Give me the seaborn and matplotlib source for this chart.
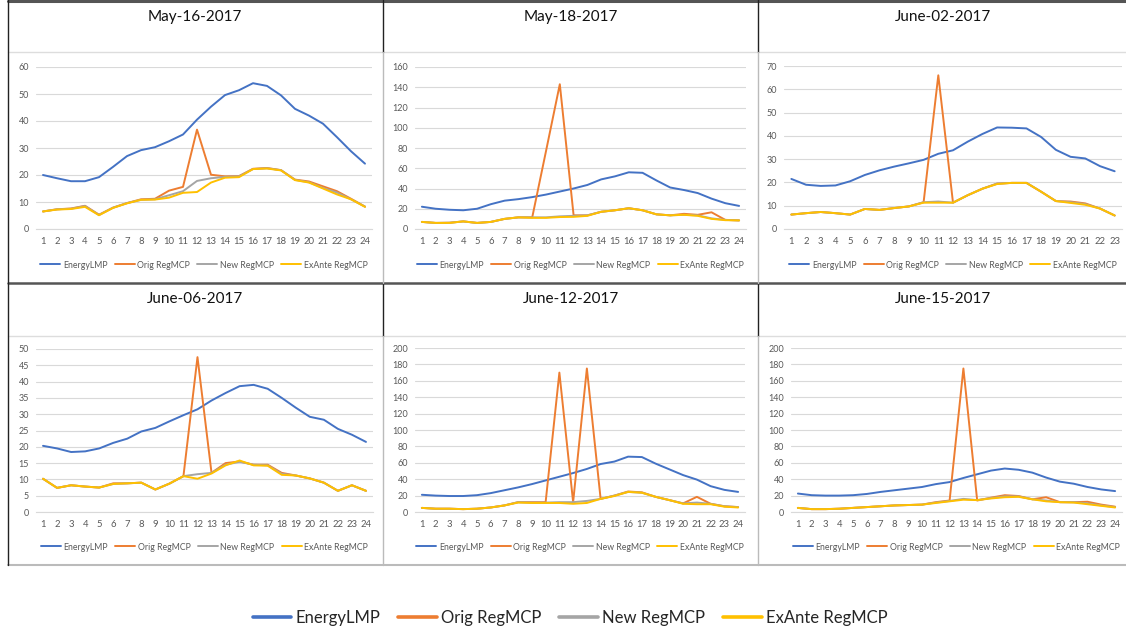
import seaborn as sns
import numpy as np
import pandas as pd
import matplotlib.pyplot as plt
from matplotlib.lines import Line2D

# hourly prices
series_names = ['EnergyLMP', 'Orig RegMCP', 'New RegMCP', 'ExAnte RegMCP']
series_colors = ['#4472C4', '#ED7D31', '#A5A5A5', '#FFC000']

dates = ['May-16-2017', 'May-18-2017', 'June-02-2017', 'June-06-2017', 'June-12-2017', 'June-15-2017']

may16_lmp = [20, 18.8, 17.7, 17.7, 19.2, 23, 27, 29.2, 30.3, 32.5, 35, 40.5, 45.3, 49.6, 51.4, 54, 53, 49.5, 44.5, 42, 39, 34, 28.8, 24.2]
may16_orig = [6.5, 7.3, 7.6, 8.6, 5.3, 7.9, 9.6, 11, 11.2, 14.2, 15.6, 36.8, 20.1, 19.5, 19.6, 22.3, 22.6, 21.8, 18.3, 17.6, 15.8, 14, 11.2, 8.3]
may16_new = [6.5, 7.3, 7.5, 8.5, 5.2, 7.9, 9.6, 10.8, 11, 12.5, 14, 17.8, 18.8, 19.3, 19.5, 22.2, 22.5, 21.8, 18.2, 17.3, 15.2, 13.5, 11, 8.3]
may16_exante = [6.5, 7.2, 7.4, 8.2, 5.1, 7.8, 9.5, 10.8, 10.9, 11.6, 13.4, 13.7, 17.2, 19, 19.2, 22.2, 22.4, 21.7, 18.1, 17.2, 15, 12.8, 11, 8.2]

may18_lmp = [22, 20, 19, 18.5, 20, 24.5, 28, 29.5, 31.5, 34, 37, 40, 43.5, 49, 52, 56, 55.5, 48, 41, 38.5, 35.5, 30, 25.5, 22.8]
may18_orig = [7, 6, 6.2, 7.5, 6, 7, 10, 11.5, 11.5, 77, 143, 13.5, 13.5, 17, 18.5, 20.5, 18.5, 14.5, 13.5, 15, 14, 16.5, 9, 8.5]
may18_new = [7, 6, 6.2, 7.5, 6, 7, 10, 11.5, 11.5, 11.5, 12.5, 13, 13.5, 17, 18.5, 20.5, 18.5, 14.5, 13.5, 14, 13.5, 10.5, 9, 8.5]
may18_exante = [7, 6, 6, 7.5, 6, 7, 10, 11.5, 11, 11, 11.8, 12, 13, 17, 18.5, 20.5, 18.5, 14.5, 13.5, 14, 13, 10, 8.7, 8.5]

jun02_lmp = [21.5, 19, 18.5, 18.7, 20.5, 23.2, 25.2, 26.8, 28.2, 29.7, 32.3, 33.8, 37.5, 40.8, 43.6, 43.5, 43.2, 39.5, 34, 31, 30.3, 27, 24.8]
jun02_orig = [6.2, 6.8, 7.3, 6.8, 6.2, 8.6, 8.2, 9, 9.7, 11.5, 66, 11.3, 14.5, 17.3, 19.5, 19.8, 19.8, 16, 12, 11.8, 11, 8.8, 5.8]
jun02_new = [6.2, 6.8, 7.3, 6.8, 6.2, 8.6, 8.2, 9, 9.7, 11.5, 11.8, 11.3, 14.5, 17.3, 19.5, 19.8, 19.8, 16, 12, 11.5, 10.7, 8.8, 5.8]
jun02_exante = [6.2, 6.8, 7.3, 6.8, 6.2, 8.6, 8.2, 9, 9.7, 11.3, 11.3, 11.3, 14.5, 17.3, 19.3, 19.8, 19.8, 16, 12, 11.2, 10.4, 8.8, 5.8]

jun06_lmp = [20.3, 19.5, 18.4, 18.6, 19.5, 21.2, 22.5, 24.7, 25.8, 27.8, 29.7, 31.5, 34.2, 36.5, 38.6, 39, 37.8, 35, 32, 29.2, 28.3, 25.5, 23.7, 21.5]
jun06_orig = [10.2, 7.4, 8.2, 7.8, 7.5, 8.8, 8.8, 9, 6.9, 8.7, 11, 47.5, 12, 15, 15.5, 14.5, 14.5, 12, 11.2, 10.3, 9, 6.5, 8.2, 6.5]
jun06_new = [10.2, 7.4, 8.2, 7.8, 7.5, 8.6, 8.8, 9, 6.9, 8.7, 11, 11.6, 12, 14.5, 15.4, 14.5, 14.3, 11.7, 11.2, 10.3, 9, 6.5, 8.2, 6.5]
jun06_exante = [10.2, 7.4, 8.2, 7.8, 7.5, 8.6, 8.8, 9, 6.9, 8.7, 11, 10.2, 11.8, 14.3, 15.8, 14.3, 14.2, 11.4, 11.2, 10.3, 9, 6.5, 8.2, 6.5]

jun12_lmp = [21, 20, 19.5, 19.5, 20.5, 23, 26.5, 30, 34, 38.5, 43, 47.5, 52.5, 58.5, 61.5, 67.5, 67, 59, 52, 45, 39.5, 31.5, 27, 24.5]
jun12_orig = [5, 4, 4, 3.5, 4, 5.5, 8, 12, 12, 12, 170, 12, 175, 16, 20, 25, 24, 18.5, 14.5, 10.5, 18.5, 10, 7, 6]
jun12_new = [5, 4, 4, 3.5, 4, 5.5, 8, 12, 11.5, 11.5, 12, 12, 13.5, 16, 20, 24.5, 23.5, 18.5, 14.5, 10.5, 11.5, 10, 7, 6]
jun12_exante = [5, 4, 4, 3.5, 4, 5.5, 8, 11.5, 11, 11, 11, 10, 11, 16, 19.5, 24.5, 23.5, 18.5, 14.5, 10, 9.5, 9.5, 6.5, 5.5]

jun15_lmp = [22.5, 20.5, 20, 20, 20.5, 22, 24.5, 26.5, 28.5, 30.5, 34, 36.5, 41.5, 46, 50.5, 53, 51.5, 48, 42, 37, 34.5, 30.5, 27.5, 25.5]
jun15_orig = [5, 3.5, 3.5, 4, 5, 6, 7, 8, 8.5, 9, 12, 14, 175, 14, 17.5, 20.5, 19.5, 15.5, 18, 12, 12, 12.5, 9, 6.5]
jun15_new = [5, 3.5, 3.5, 4, 5, 6, 7, 8, 8.5, 9, 11.5, 13.5, 16, 14.5, 17, 19, 19, 15.5, 14, 12, 12, 10.5, 8, 6]
jun15_exante = [5, 3.5, 3.5, 4, 5, 6, 7, 8, 8.5, 9, 11, 13, 15, 14.5, 16.5, 18, 18.5, 15.5, 13, 12, 11.5, 9.5, 7.5, 5.5]

y_max = [60, 160, 70, 50, 200, 200]
y_step = [10, 20, 10, 5, 20, 20]

W, H = 1126, 636


def pxRect(x0, y0, x1, y1):
	# pixel box (top-left origin) -> figure fraction rect
	return [x0 / W, 1 - y1 / H, (x1 - x0) / W, (y1 - y0) / H]


def buildFrame(values):
	rows = []
	for name, vals in zip(series_names, values):
		for i, v in enumerate(vals):
			rows.append({'hour': i + 1, 'price': v, 'series': name})
	return pd.DataFrame(rows)


def drawPanel(fig, box, df, ymax, ystep, legend_y):
	ax = fig.add_axes(pxRect(*box))
	sns.lineplot(data=df, x='hour', y='price', hue='series', hue_order=series_names,
				 palette=series_colors, estimator=None, sort=False, linewidth=1.4,
				 legend=False, ax=ax)
	n = df['hour'].max()
	ax.set_xlim(0.5, n + 0.5)
	ax.set_ylim(0, ymax)
	ax.set_xticks(np.arange(1, n + 1))
	ax.set_xticks(np.arange(0.5, n + 1), minor=True)
	ax.set_yticks(np.arange(0, ymax + 1, ystep))
	ax.tick_params(axis='x', which='major', length=0, pad=6, labelsize=6.8, labelcolor='#595959')
	ax.tick_params(axis='x', which='minor', length=3, color='#D9D9D9', width=0.8)
	ax.tick_params(axis='y', length=0, pad=5, labelsize=6.5, labelcolor='#595959')
	ax.grid(axis='y', color='#D9D9D9', linewidth=0.8)
	ax.set_axisbelow(True)
	for s in ['left', 'right', 'top']:
		ax.spines[s].set_visible(False)
	ax.spines['bottom'].set_color('#D9D9D9')
	ax.spines['bottom'].set_linewidth(0.8)
	ax.set_xlabel('')
	ax.set_ylabel('')
	handles = [Line2D([], [], color=c, linewidth=1.4) for c in series_colors]
	cx = (box[0] + box[2]) / 2 / W
	ax.legend(handles, series_names, loc='center', bbox_to_anchor=(cx, 1 - legend_y / H),
			  bbox_transform=fig.transFigure, ncol=4, frameon=False, fontsize=6.3,
			  handlelength=2.3, handletextpad=0.3, columnspacing=0.8, labelcolor='#595959')
	return ax


sns.set_theme(style='white')
plt.rcParams['font.family'] = ['Lato', 'DejaVu Sans']

fig = plt.figure(figsize=(W / 100, H / 100), dpi=100)

panel_values = [
	[may16_lmp, may16_orig, may16_new, may16_exante],
	[may18_lmp, may18_orig, may18_new, may18_exante],
	[jun02_lmp, jun02_orig, jun02_new, jun02_exante],
	[jun06_lmp, jun06_orig, jun06_new, jun06_exante],
	[jun12_lmp, jun12_orig, jun12_new, jun12_exante],
	[jun15_lmp, jun15_orig, jun15_new, jun15_exante],
]

boxes = [(36, 67, 372, 229), (415, 67, 746, 229), (784, 66, 1122, 229),
		 (36, 349, 373, 512), (415, 348, 745, 512), (791, 348, 1122, 512)]
legend_ys = [265, 265, 265, 547, 547, 547]

for i in range(6):
	df = buildFrame(panel_values[i])
	drawPanel(fig, boxes[i], df, y_max[i], y_step[i], legend_ys[i])

# table frame around the panels
def figLine(x0, y0, x1, y1, color, lw):
	fig.add_artist(Line2D([x0 / W, x1 / W], [1 - y0 / H, 1 - y1 / H], color=color, linewidth=lw))

figLine(8, 1, 1126, 1, '#555555', 2.2)
figLine(8, 283, 1126, 283, '#555555', 1.8)
figLine(8, 565, 1126, 565, '#BBBBBB', 1.5)
figLine(8, 52, 1126, 52, '#DDDDDD', 1.0)
figLine(8, 336, 1126, 336, '#DDDDDD', 1.0)
figLine(8, 0, 8, 565, '#222222', 1.0)
for x in [383, 758]:
	figLine(x, 0, x, 52, '#222222', 1.0)
	figLine(x, 283, x, 336, '#222222', 1.0)
	figLine(x, 52, x, 283, '#BBBBBB', 1.0)
	figLine(x, 336, x, 565, '#BBBBBB', 1.0)

col_centers = [195, 571, 943]
for i, d in enumerate(dates):
	ty = 17 if i < 3 else 299
	fig.text(col_centers[i % 3] / W, 1 - ty / H, d, ha='center', va='center', fontsize=11, color='#111111')

# shared legend at the bottom
big_handles = [Line2D([], [], color=c, linewidth=2.6) for c in series_colors]
fig.legend(big_handles, series_names, loc='center', bbox_to_anchor=(570 / W, 1 - 618 / H),
		   ncol=4, frameon=False, fontsize=12, handlelength=2.3, handletextpad=0.25,
		   columnspacing=1.1)

fig.savefig('out.png', dpi=100)
